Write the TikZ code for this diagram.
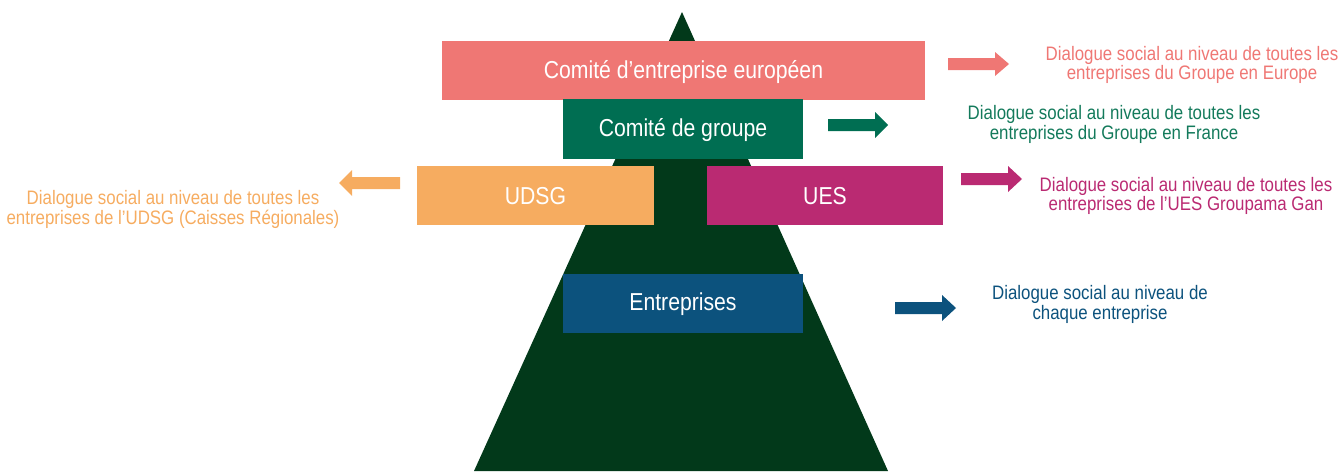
\documentclass[tikz,border=0pt]{standalone}
\usepackage{fontspec}
\setmainfont[FakeStretch=0.865]{Liberation Sans}
\definecolor{pyr}{HTML}{02391A}
\definecolor{cce}{HTML}{EF7774}
\definecolor{cgr}{HTML}{006E52}
\definecolor{cud}{HTML}{F6AC60}
\definecolor{cue}{HTML}{BA2A72}
\definecolor{cen}{HTML}{0C527D}
\definecolor{tgr}{HTML}{137A5B}
\begin{document}
\begin{tikzpicture}[x=1pt,y=-1pt,
  box/.style={inner sep=0pt,text=white,font=\fontsize{24.5}{27}\selectfont},
  desc/.style={align=center,inner sep=0pt,font=\fontsize{19.5}{19.8}\selectfont}]
\useasboundingbox (0,0) rectangle (1340,471);
% pyramid
\fill[pyr] (682,12) -- (888,471) -- (474,471) -- cycle;
% boxes
\fill[cce] (442,41) rectangle (925,100);
\node[box] (ce) at (683.5,72) {Comité d’entreprise européen};
\fill[cgr] (563,99) rectangle (803,159);
\node[box] (gr) at (683,130) {Comité de groupe};
\fill[cud] (417,166) rectangle (654,225);
\node[box] (ud) at (535.5,196.5) {UDSG};
\fill[cue] (707,166) rectangle (943,225);
\node[box] (ue) at (825,196.5) {UES};
\fill[cen] (563,274) rectangle (803,333);
\node[box] (en) at (683,304.5) {Entreprises};
% arrows
\fill[cce] (948,58) -- (995,58) -- (995,52) -- (1009,64) -- (995,76) -- (995,70) -- (948,70) -- cycle;
\fill[cgr] (828,119) -- (875,119) -- (875,112) -- (888,125) -- (875,138) -- (875,131) -- (828,131) -- cycle;
\fill[cud] (400,177) -- (352,177) -- (352,170) -- (339,183) -- (352,196) -- (352,189) -- (400,189) -- cycle;
\fill[cue] (961,173) -- (1008,173) -- (1008,166) -- (1022,179) -- (1008,192) -- (1008,185) -- (961,185) -- cycle;
\fill[cen] (895,302) -- (942,302) -- (942,295) -- (956,308) -- (942,321) -- (942,314) -- (895,314) -- cycle;
% descriptions
\node[desc,text=cce] (dce) at (1192,65) {Dialogue social au niveau de toutes les\\entreprises du Groupe en Europe};
\node[desc,text=tgr] (dgr) at (1114,124.5) {Dialogue social au niveau de toutes les\\entreprises du Groupe en France};
\node[desc,text=cud] (dud) at (173,209.5) {Dialogue social au niveau de toutes les\\entreprises de l’UDSG (Caisses Régionales)};
\node[desc,text=cue] (due) at (1186,196) {Dialogue social au niveau de toutes les\\entreprises de l’UES Groupama Gan};
\node[desc,text=cen] (den) at (1100,304.5) {Dialogue social au niveau de\\chaque entreprise};
\end{tikzpicture}
\end{document}
